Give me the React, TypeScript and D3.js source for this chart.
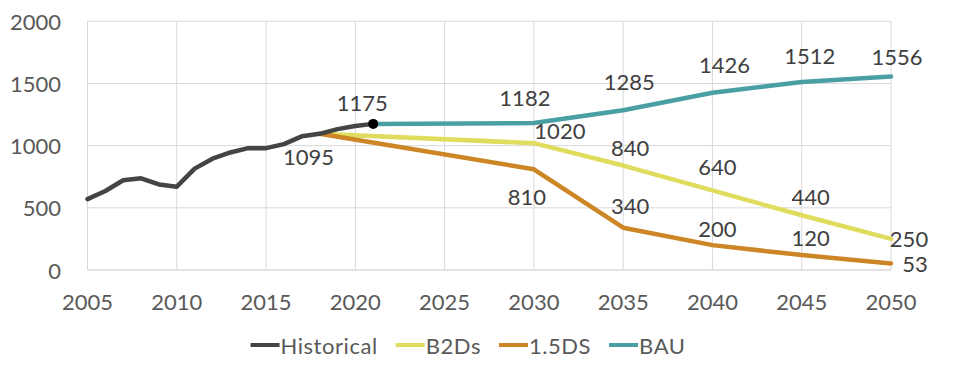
import React from "react";
import * as d3 from "d3";

const histYears = [2005, 2006, 2007, 2008, 2009, 2010, 2011, 2012, 2013, 2014, 2015, 2016, 2017, 2018, 2019, 2020, 2021];
const histValues = [570, 635, 722, 737, 688, 670, 815, 895, 945, 980, 980, 1012, 1075, 1095, 1133, 1158, 1175];

const b2dsYears = [2018, 2030, 2035, 2040, 2045, 2050];
const b2dsValues = [1095, 1020, 840, 640, 440, 250];

const ds15Years = [2018, 2030, 2035, 2040, 2045, 2050];
const ds15Values = [1095, 810, 340, 200, 120, 53];

const bauYears = [2021, 2030, 2035, 2040, 2045, 2050];
const bauValues = [1175, 1182, 1285, 1426, 1512, 1556];

const xTicks = [2005, 2010, 2015, 2020, 2025, 2030, 2035, 2040, 2045, 2050];
const yTicks = [0, 500, 1000, 1500, 2000];

const seriesNames = ["Historical", "B2Ds", "1.5DS", "BAU"];

// label offsets (style), per series, index-aligned with points that carry a label
const bauLabelOffsets: [number, number][] = [[-11, -21], [-9, -26], [6, -29], [12, -28], [8, -26], [6, -20]];
const b2dsLabelOffsets: [number, number][] = [[-11, 23], [26, -13], [7, -18], [5, -24], [9, -19], [18, 0]];
const ds15LabelOffsets: [number, number][] = [[0, 0], [-7, 27], [7, -22], [5, -17], [9, -18], [24, 0]];

const COLORS: Record<string, string> = {
  Historical: "#444444",
  B2Ds: "#dfdc5e",
  "1.5DS": "#cc8626",
  BAU: "#4a9fa5",
};

const FONT = "Lato, 'Open Sans', sans-serif";
const W = 962;
const H = 382;
const LEG_SPACING = 0.55;

function measure(text: string, size: number) {
  if (typeof document === "undefined") return text.length * size * 0.5;
  const c = document.createElement("canvas");
  const ctx = c.getContext("2d");
  if (!ctx) return text.length * size * 0.5;
  ctx.font = `${size}px Lato`;
  return ctx.measureText(text).width + LEG_SPACING * text.length;
}

export default function App() {
  const x = d3.scaleLinear().domain([2005, 2050]).range([87.5, 891]);
  const y = d3.scaleLinear().domain([0, 2000]).range([270, 21.3]);

  const line = d3
    .line<[number, number]>()
    .x((d) => x(d[0]))
    .y((d) => y(d[1]))
    .curve(d3.curveLinear);

  const zip = (a: number[], b: number[]) => a.map((v, i) => [v, b[i]] as [number, number]);

  const hist = zip(histYears, histValues);
  const b2 = zip(b2dsYears, b2dsValues);
  const d15 = zip(ds15Years, ds15Values);
  const bau = zip(bauYears, bauValues);

  const labels: { x: number; y: number; t: string }[] = [];
  bau.forEach((p, i) => {
    const o = bauLabelOffsets[i];
    labels.push({ x: x(p[0]) + o[0], y: y(p[1]) + o[1], t: String(p[1]) });
  });
  b2.forEach((p, i) => {
    const o = b2dsLabelOffsets[i];
    labels.push({ x: x(p[0]) + o[0], y: y(p[1]) + o[1], t: String(p[1]) });
  });
  d15.forEach((p, i) => {
    if (i === 0) return;
    const o = ds15LabelOffsets[i];
    labels.push({ x: x(p[0]) + o[0], y: y(p[1]) + o[1], t: String(p[1]) });
  });

  // legend layout
  const legFont = 22;
  const swatchW = 29;
  const gapText = 1;
  const itemGap = 18;
  const widths = seriesNames.map((n) => swatchW + gapText + measure(n, legFont));
  const total = widths.reduce((a, b) => a + b, 0) + itemGap * (seriesNames.length - 1);
  let cx = 468 - total / 2;
  const legendItems = seriesNames.map((n, i) => {
    const item = { name: n, x: cx };
    cx += widths[i] + itemGap;
    return item;
  });
  const legY = 345;

  return (
    <svg
      width={W}
      height={H}
      viewBox={`0 0 ${W} ${H}`}
      style={{ position: "absolute", left: 0, top: 0, background: "#fff" }}
      fontFamily={FONT}
    >
      <rect x={0} y={0} width={W} height={H} fill="#fff" />
      {yTicks.map((t) => (
        <line key={"gy" + t} x1={x(2005)} x2={x(2050)} y1={y(t)} y2={y(t)} stroke={t === 0 ? "#c8c8c8" : "#d9d9d9"} strokeWidth={1} />
      ))}
      {xTicks.map((t) => (
        <line key={"gx" + t} x1={x(t)} x2={x(t)} y1={y(0)} y2={y(2000)} stroke="#d9d9d9" strokeWidth={1} />
      ))}
      {yTicks.map((t) => (
        <text key={"ty" + t} x={61} y={y(t)} textAnchor="end" dominantBaseline="central" fontSize={22} fill="#595959">
          {t}
        </text>
      ))}
      {xTicks.map((t) => (
        <text key={"tx" + t} x={x(t)} y={301} textAnchor="middle" dominantBaseline="central" fontSize={22} fill="#595959">
          {t}
        </text>
      ))}

      <path d={line(b2) || ""} fill="none" stroke={COLORS["B2Ds"]} strokeWidth={4.5} strokeLinejoin="round" strokeLinecap="round" />
      <path d={line(d15) || ""} fill="none" stroke={COLORS["1.5DS"]} strokeWidth={4.5} strokeLinejoin="round" strokeLinecap="round" />
      <path d={line(bau) || ""} fill="none" stroke={COLORS["BAU"]} strokeWidth={4.5} strokeLinejoin="round" strokeLinecap="round" />
      <path d={line(hist) || ""} fill="none" stroke={COLORS["Historical"]} strokeWidth={4.5} strokeLinejoin="round" strokeLinecap="round" />
      <circle cx={x(2021)} cy={y(1175)} r={5} fill="#000" />

      {labels.map((l, i) => (
        <text key={"l" + i} x={l.x} y={l.y} textAnchor="middle" dominantBaseline="central" fontSize={22} fill="#404040">
          {l.t}
        </text>
      ))}

      {legendItems.map((it) => (
        <g key={it.name}>
          <line x1={it.x} x2={it.x + swatchW} y1={legY} y2={legY} stroke={COLORS[it.name]} strokeWidth={4} />
          <text
            x={it.x + swatchW + gapText}
            y={legY}
            dominantBaseline="central"
            fontSize={legFont}
            letterSpacing={LEG_SPACING}
            fill="#595959"
          >
            {it.name}
          </text>
        </g>
      ))}
    </svg>
  );
}
